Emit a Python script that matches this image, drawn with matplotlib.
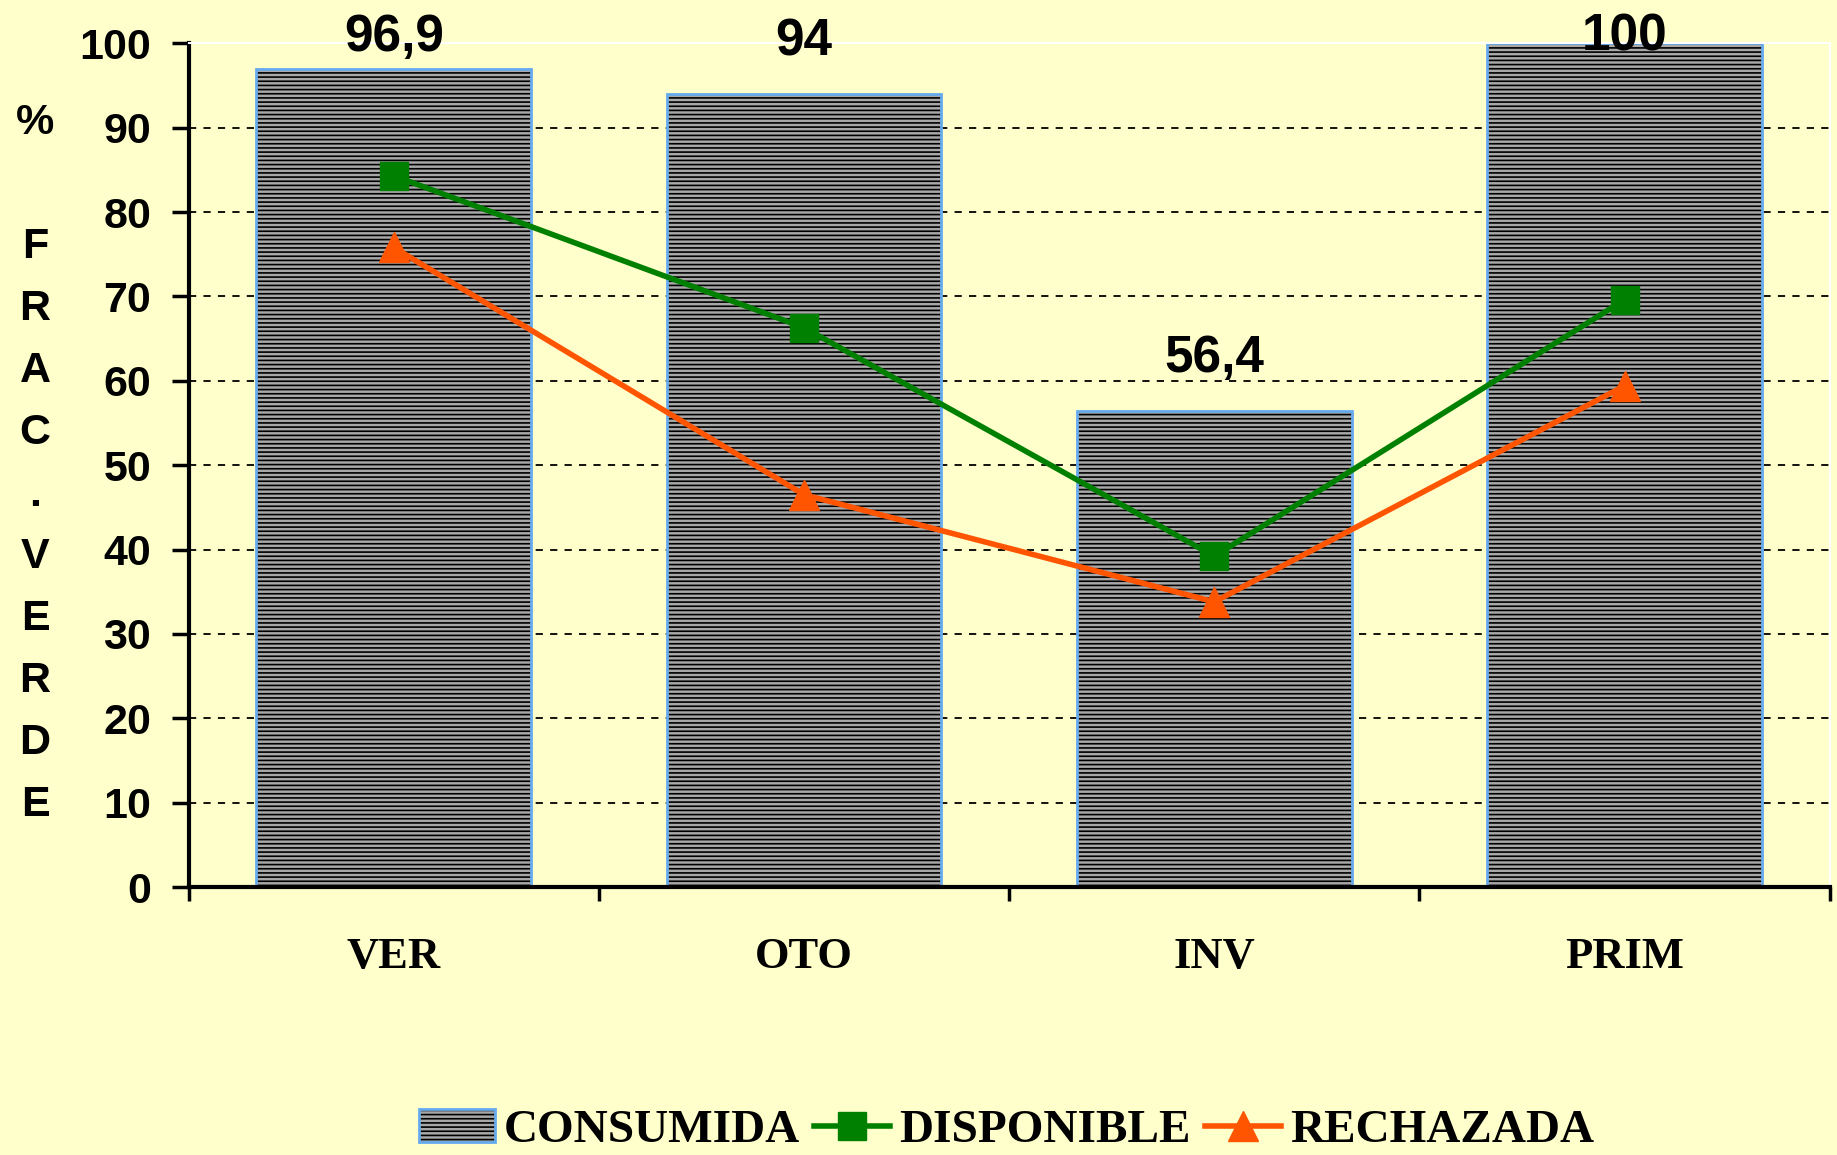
import matplotlib
matplotlib.use("Agg")
import matplotlib.pyplot as plt
from matplotlib.patches import Patch
from matplotlib.lines import Line2D
from matplotlib.legend_handler import HandlerTuple
import numpy as np

categories = ["VER", "OTO", "INV", "PRIM"]
consumida = [96.9, 94, 56.4, 100]
disponible = [84.3, 66.3, 39.2, 69.6]
rechazada = [75.8, 46.5, 33.8, 59.4]
bar_labels = ["96,9", "94", "56,4", "100"]
yticks = [0, 10, 20, 30, 40, 50, 60, 70, 80, 90, 100]
ylabel_chars = ["%", "", "F", "R", "A", "C", ".", "V", "E", "R", "D", "E"]
legend_labels = ["CONSUMIDA", "DISPONIBLE", "RECHAZADA"]

BG = "#FFFFCC"
GREEN = "#008000"
ORANGE = "#FF5500"
BAR_EDGE = "#66AAEE"
BAR_FACE = "#a8a8a8"

plt.rcParams["hatch.linewidth"] = 1.2

fig = plt.figure(figsize=(18.37, 11.55), dpi=100, facecolor=BG)
ax = fig.add_axes([0.1027, 0.232, 0.8933, 0.7305], facecolor=BG)

x = np.arange(len(categories))
ax.set_xlim(-0.5, len(categories) - 0.5)
ax.set_ylim(0, 100)

# grid
ax.set_yticks(yticks)
ax.yaxis.grid(True, color="black", linestyle=(0, (4, 4)), linewidth=1.3)
ax.set_axisbelow(True)

# hatched fill (black hatch) + blue outline
ax.bar(x, consumida, width=0.67, facecolor=BAR_FACE, edgecolor="black",
       linewidth=0, hatch="----", zorder=2)
ax.bar(x, consumida, width=0.67, fill=False, edgecolor=BAR_EDGE,
       linewidth=2, zorder=2.5)

ax.plot(x, disponible, color=GREEN, lw=4, marker="s", markersize=20, zorder=4)
ax.plot(x, rechazada, color=ORANGE, lw=4, marker="^", markersize=21, zorder=4)

for xi, v, lab in zip(x, consumida, bar_labels):
    ax.text(xi, min(v + 3.3, 97.8), lab, ha="center", va="bottom", fontsize=37,
            fontweight="bold", family="Liberation Sans", zorder=5, clip_on=False)

# spines
for s in ["left", "bottom"]:
    ax.spines[s].set_linewidth(3)
    ax.spines[s].set_color("black")
for s in ["top", "right"]:
    ax.spines[s].set_color("white")
    ax.spines[s].set_linewidth(1.5)

ax.tick_params(axis="y", direction="out", length=12, width=2.5, pad=15,
               labelsize=31)
for t in ax.get_yticklabels():
    t.set_fontweight("bold")
    t.set_family("Liberation Sans")

ax.set_xticks(x)
ax.set_xticklabels(categories)
ax.set_xticks(np.arange(len(categories) + 1) - 0.5, minor=True)
ax.tick_params(axis="x", which="major", length=0, pad=36, labelsize=32)
ax.tick_params(axis="x", which="minor", direction="out", length=10, width=2.5)
for t in ax.get_xticklabels():
    t.set_fontweight("bold")
    t.set_family("Liberation Serif")

# vertical y label
for i, ch in enumerate(ylabel_chars):
    if ch:
        fig.text(35 / 1837, 1 - (123 + i * 62) / 1155, ch, ha="center", va="center",
                 fontsize=31, fontweight="bold", family="Liberation Sans")

bar_handle = (Patch(facecolor=BAR_FACE, edgecolor="black", hatch="----", linewidth=0),
              Patch(fill=False, edgecolor=BAR_EDGE, linewidth=2))
handles = [
    bar_handle,
    Line2D([], [], color=GREEN, lw=4, marker="s", markersize=20),
    Line2D([], [], color=ORANGE, lw=4, marker="^", markersize=21),
]
fig.legend(handles, legend_labels, loc="center", bbox_to_anchor=(0.548, 0.021),
           ncol=3, frameon=False, handlelength=1.6, handletextpad=0.2,
           columnspacing=0.3, handler_map={tuple: HandlerTuple(ndivide=1, pad=0)},
           prop={"family": "Liberation Serif", "weight": "bold", "size": 34})

fig.savefig("out.png", dpi=100, facecolor=BG)
